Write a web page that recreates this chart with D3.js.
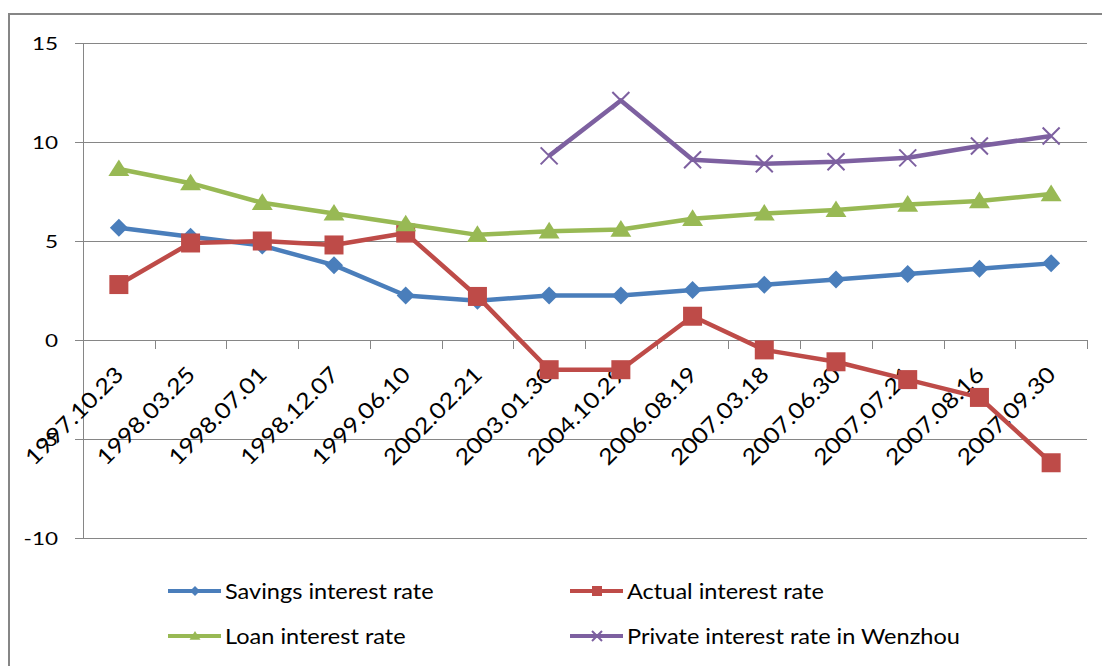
<!DOCTYPE html>
<html>
<head>
<meta charset="utf-8">
<script src="https://cdn.jsdelivr.net/npm/d3@7"></script>
<style>
  body { margin: 0; background: #fff; }
  text { font-family: Lato, "Open Sans", sans-serif; fill: #000; }
</style>
</head>
<body>
<div id="chart"></div>
<script>
const dates = ["1997.10.23", "1998.03.25", "1998.07.01", "1998.12.07", "1999.06.10",
  "2002.02.21", "2003.01.30", "2004.10.29", "2006.08.19", "2007.03.18",
  "2007.06.30", "2007.07.21", "2007.08.16", "2007.09.30"];
const savings = [5.67, 5.22, 4.77, 3.78, 2.25, 1.98, 2.25, 2.25, 2.52, 2.79, 3.06, 3.33, 3.6, 3.87];
const actual = [2.8, 4.9, 5.0, 4.8, 5.4, 2.2, -1.5, -1.5, 1.2, -0.5, -1.1, -2.0, -2.9, -6.2];
const loan = [8.64, 7.92, 6.93, 6.39, 5.85, 5.31, 5.49, 5.58, 6.12, 6.39, 6.57, 6.84, 7.02, 7.37];
const privateRate = [null, null, null, null, null, null, 9.3, 12.1, 9.1, 8.9, 9.0, 9.2, 9.8, 10.3];
const yTicks = [-10, -5, 0, 5, 10, 15];

const series = [
  { name: "Savings interest rate", values: savings, color: "#4A7EBB", marker: "diamond" },
  { name: "Actual interest rate", values: actual, color: "#BE4B48", marker: "square" },
  { name: "Loan interest rate", values: loan, color: "#98B954", marker: "triangle" },
  { name: "Private interest rate in Wenzhou", values: privateRate, color: "#7D60A0", marker: "cross" }
];

const W = 1102, H = 666;
const plot = { left: 83, right: 1087, top: 43, bottom: 538 };

const svg = d3.select("#chart").append("svg")
  .attr("width", W).attr("height", H);

// outer frame, only top and left edges show
svg.append("path")
  .attr("d", `M9,${H} V14 H${W}`)
  .attr("fill", "none").attr("stroke", "#868686").attr("stroke-width", 2);

const x = d3.scaleBand().domain(dates).range([plot.left, plot.right]);
const y = d3.scaleLinear().domain([-10, 15]).range([plot.bottom, plot.top]);

// gridlines
svg.append("g").selectAll("line").data(yTicks).join("line")
  .attr("x1", plot.left - 8).attr("x2", plot.right)
  .attr("y1", d => y(d) + 0.5).attr("y2", d => y(d) + 0.5)
  .attr("stroke", "#868686").attr("stroke-width", 1);

// y axis line
svg.append("line")
  .attr("x1", plot.left + 0.5).attr("x2", plot.left + 0.5)
  .attr("y1", plot.top).attr("y2", plot.bottom)
  .attr("stroke", "#868686");

// y labels
svg.append("g").selectAll("text").data(yTicks).join("text")
  .attr("transform", d => `translate(58,${y(d) + 6.5}) scale(1.25,1)`)
  .attr("text-anchor", "end")
  .style("font-size", "18px")
  .text(d => d);

// x axis ticks at band edges
const edges = dates.map(d => x(d)).concat([plot.right]);
svg.append("g").selectAll("line").data(edges.slice(1)).join("line")
  .attr("x1", d => Math.round(d) + 0.5).attr("x2", d => Math.round(d) + 0.5)
  .attr("y1", y(0)).attr("y2", y(0) + 9)
  .attr("stroke", "#868686");

// x labels, rotated
svg.append("g").selectAll("text").data(dates).join("text")
  .attr("transform", d => `translate(${x(d) + x.bandwidth() / 2 + 6},${y(0) + 36}) rotate(-45) scale(1.14,1)`)
  .attr("text-anchor", "end")
  .style("font-size", "22px")
  .text(d => d);

function drawMarker(g, type, color, s) {
  if (type === "diamond") {
    g.append("path").attr("d", `M0,${-s}L${s},0L0,${s}L${-s},0Z`).attr("fill", color);
  } else if (type === "square") {
    g.append("rect").attr("x", -s).attr("y", -s).attr("width", 2 * s).attr("height", 2 * s).attr("fill", color);
  } else if (type === "triangle") {
    g.append("path").attr("d", `M0,${-s}L${s * 1.1},${s * 0.75}L${-s * 1.1},${s * 0.75}Z`).attr("fill", color);
  } else {
    g.append("path").attr("d", `M${-s},${-s}L${s},${s}M${s},${-s}L${-s},${s}`)
      .attr("stroke", color).attr("stroke-width", 2).attr("fill", "none");
  }
}

const cx = d => x(d) + x.bandwidth() / 2;
const line = d3.line()
  .defined(d => d.v !== null)
  .x(d => cx(d.date))
  .y(d => y(d.v));

const markerSize = { diamond: 9, square: 9.5, triangle: 9.5, cross: 8.5 };

series.forEach(s => {
  const pts = dates.map((d, i) => ({ date: d, v: s.values[i] }));
  svg.append("path")
    .datum(pts)
    .attr("d", line)
    .attr("fill", "none")
    .attr("stroke", s.color)
    .attr("stroke-width", 4.5)
    .attr("stroke-linejoin", "round");
  pts.filter(p => p.v !== null).forEach(p => {
    const g = svg.append("g").attr("transform", `translate(${cx(p.date)},${y(p.v)})`);
    drawMarker(g, s.marker, s.color, markerSize[s.marker]);
  });
});

// legend, two columns
const legendPos = [
  { lx: 168, ty: 591 }, { lx: 570, ty: 591 },
  { lx: 168, ty: 636 }, { lx: 570, ty: 636 }
];
series.forEach((s, i) => {
  const p = legendPos[i];
  const g = svg.append("g").attr("transform", `translate(${p.lx},${p.ty})`);
  g.append("line").attr("x1", 0).attr("x2", 53).attr("y1", 0).attr("y2", 0)
    .attr("stroke", s.color).attr("stroke-width", 4);
  const m = g.append("g").attr("transform", "translate(27,0)");
  drawMarker(m, s.marker, s.color, 5);
  g.append("text")
    .attr("transform", "translate(57,8) scale(1.07,1)")
    .style("font-size", "22px")
    .text(s.name);
});
</script>
</body>
</html>
